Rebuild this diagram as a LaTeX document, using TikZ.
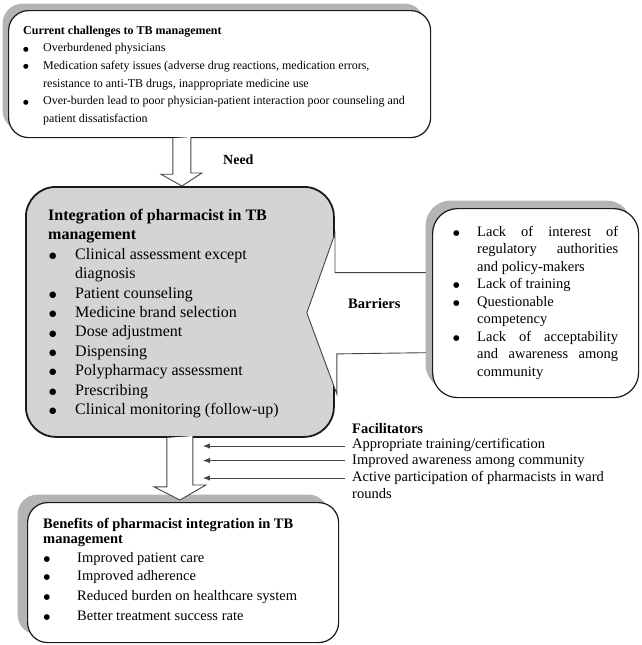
\documentclass[tikz,border=0pt]{standalone}
\usepackage{fontspec}
\setmainfont{Liberation Serif}
\newfontfamily\symfont{DejaVu Sans}
\usetikzlibrary{shadows,arrows.meta,calc}
\pgfdeclarelayer{background}
\pgfsetlayers{background,main}
\definecolor{boxgray}{HTML}{D4D4D4}
\definecolor{shadowgray}{HTML}{B4B4B4}
\definecolor{edgecol}{HTML}{1A1A1A}
\definecolor{arrowedge}{HTML}{444444}
% bullet: #1 = symbol size, #2 = raise
\newcommand\dotbul[2]{\raisebox{#2}{\symfont\fontsize{#1}{#1}\selectfont ●}}
\newcommand\bulTop{\makebox[20pt][l]{\dotbul{6.5pt}{0.6pt}}}
\newcommand\contTop{\hspace*{20pt}}
\newcommand\bulMid{\hspace*{1pt}\makebox[26pt][l]{\dotbul{8.5pt}{0.9pt}}}
\newcommand\contMid{\hspace*{27pt}}
\newcommand\bulBar{\makebox[24pt][l]{\dotbul{7.5pt}{0.8pt}}}
\newcommand\contBar{\hspace*{24pt}}
\newcommand\bulBen{\hspace*{0.5pt}\makebox[33.5pt][l]{\dotbul{7.5pt}{0.8pt}}}
\newcommand\jline[1]{\makebox[141pt][s]{#1}}
\begin{document}
\begin{tikzpicture}[x=1pt,y=-1pt,
  box/.style={draw=edgecol, line width=1.2pt, fill=white, rectangle, inner sep=0pt, anchor=north west},
  txt/.style={inner sep=0pt, align=left, anchor=north west},
  lbl/.style={inner sep=0pt, anchor=base west},
  blockarrow/.style={draw=arrowedge, line width=0.9pt, fill=white, line join=miter},
  facarrow/.style={draw=arrowedge, line width=0.9pt, -{Latex[length=7pt,width=5.5pt]}}]
\useasboundingbox (0,0) rectangle (642,645);

% boxes
\node[box, rounded corners=20pt, minimum width=422pt, minimum height=127pt,
  general shadow={fill=shadowgray, shadow xshift=-6pt, shadow yshift=7pt}] (top) at (8,10) {};
\node[box, rounded corners=25pt, minimum width=206pt, minimum height=189pt,
  general shadow={fill=shadowgray, shadow xshift=-7pt, shadow yshift=8pt}] (barriers) at (432,208) {};
\node[box, rounded corners=20pt, minimum width=311pt, minimum height=140pt,
  general shadow={fill=shadowgray, shadow xshift=-10pt, shadow yshift=8pt}] (benefits) at (27,502) {};

\begin{pgfonlayer}{background}
\node[box, fill=boxgray, line width=1.8pt, rounded corners=30pt, minimum width=308pt, minimum height=250pt] (central) at (25,186) {};
% barriers block arrow
\filldraw[blockarrow] ($(barriers.west)+(0,-30.5)$) -- ++(-97,0) -- ++(0,-39)
  -- ($(central.east)+(-28,1)$) -- ++(30,81) -- ++(0,-40) -- ($(barriers.west)+(0,49.5)$);
\end{pgfonlayer}

% need arrow
\coordinate (needtip) at ($(central.north)+(2,0)$);
\filldraw[blockarrow] ($(needtip |- top.south)+(-9,0)$) -- ++(0,36) -- ++(-12,0)
  -- (needtip) -- ++(20,-13) -- ++(-11,0) -- ++(0,-36);

% down arrow
\coordinate (downtip) at ($(central.south |- benefits.north)+(0,-2)$);
\filldraw[blockarrow] ($(central.south)+(-13,0)$) -- ++(0,49) -- ++(-13,0)
  -- (downtip) -- ++(26,-15) -- ++(-13,0) -- ++(0,-49);
\coordinate (factip) at ($(central.south)+(23,0)$);

% texts
\node[txt, font=\fontsize{12}{17.6}\selectfont] (toptext) at (23,24) {\rule{0pt}{10pt}\textbf{Current challenges to TB management}\\
\bulTop Overburdened physicians\\
\bulTop Medication safety issues (adverse drug reactions, medication errors,\\
\contTop resistance to anti-TB drugs, inappropriate medicine use\\
\bulTop Over-burden lead to poor physician-patient interaction poor counseling and\\
\contTop patient dissatisfaction};

\node[lbl, font=\fontsize{14}{17}\selectfont\bfseries] (need) at (223,164) {Need};

\node[txt, font=\fontsize{16}{19.45}\selectfont] (centraltext) at (48,208) {\rule{0pt}{12pt}\textbf{Integration of pharmacist in TB}\\
\textbf{management}\\
\bulMid Clinical assessment except\\
\contMid diagnosis\\
\bulMid Patient counseling\\
\bulMid Medicine brand selection\\
\bulMid Dose adjustment\\
\bulMid Dispensing\\
\bulMid Polypharmacy assessment\\
\bulMid Prescribing\\
\bulMid Clinical monitoring (follow-up)};

\node[lbl, font=\fontsize{14.5}{17}\selectfont\bfseries] (barlabel) at (348,308) {Barriers};

\node[txt, font=\fontsize{14.5}{17.5}\selectfont] (bartext) at (453,225) {\rule{0pt}{11pt}\bulBar\jline{Lack of interest of}\\
\contBar\jline{regulatory authorities}\\
\contBar and policy-makers\\
\bulBar Lack of training\\
\bulBar Questionable\\
\contBar competency\\
\bulBar\jline{Lack of acceptability}\\
\contBar\jline{and awareness among}\\
\contBar community};

\node[lbl, font=\fontsize{14.5}{17}\selectfont\bfseries] (faclabel) at (352,433.5) {Facilitators};
\node[lbl, font=\fontsize{14.5}{17}\selectfont] (f1) at (352,448) {Appropriate training/certification};
\node[lbl, font=\fontsize{14.5}{17}\selectfont] (f2) at (352,464.5) {Improved awareness among community};
\node[txt, font=\fontsize{14.5}{17}\selectfont] (f3) at (352,470.5) {\rule{0pt}{11pt}Active participation of pharmacists in ward\\rounds};

\draw[facarrow] ($(f1.base west)+(-7,-2)$) coordinate (f1s) -- (f1s -| factip);
\draw[facarrow] ($(f2.base west)+(-7,-4)$) coordinate (f2s) -- (f2s -| factip);
\draw[facarrow] ($(f3.north west)+(-7,7.5)$) coordinate (f3s) -- (f3s -| factip);

\node[txt, font=\fontsize{14.5}{15.5}\selectfont] (bentext) at (43,517) {\rule{0pt}{11pt}\textbf{Benefits of pharmacist integration in TB}\\
\textbf{management}\\[3pt]
\bulBen Improved patient care\\[2.5pt]
\bulBen Improved adherence\\[4.5pt]
\bulBen Reduced burden on healthcare system\\[4.5pt]
\bulBen Better treatment success rate};
\end{tikzpicture}
\end{document}
